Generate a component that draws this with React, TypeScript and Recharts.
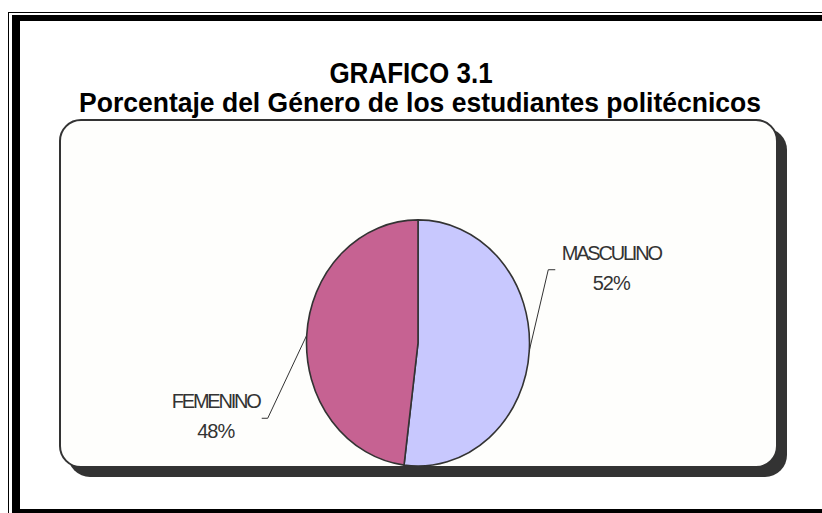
import { Cell, Pie, PieChart } from "recharts";

// Genero de los estudiantes (porcentaje)
const categories = ["MASCULINO", "FEMENINO"];
const percentages = [52, 48];
const colors = ["#C8C8FE", "#C66292"];

const title = "GRAFICO 3.1";
const subtitle = "Porcentaje del Género de los estudiantes politécnicos";

const data = categories.map((name, i) => ({ name, value: percentages[i] }));

const RADIAN = Math.PI / 180;
// the pie in the picture is a bit taller than wide
const Y_STRETCH = 1.104;

// label placement per slice: elbow of the leader line, short tick, text centre
const labelStyle: Record<string, { elbow: [number, number]; tick: number; text: [number, number, number] }> = {
  MASCULINO: { elbow: [19, -81], tick: 7, text: [56, -10, 20] },
  FEMENINO: { elbow: [-39, 83], tick: -6, text: [-46, -10, 20] },
};

function ellipsePoint(cx: number, cy: number, r: number, angle: number) {
  return [cx + r * Math.cos(angle * RADIAN), cy - r * Y_STRETCH * Math.sin(angle * RADIAN)];
}

function EllipseSector(props: any) {
  const { cx, cy, outerRadius, startAngle, endAngle, fill } = props;
  const [x0, y0] = ellipsePoint(cx, cy, outerRadius, startAngle);
  const [x1, y1] = ellipsePoint(cx, cy, outerRadius, endAngle);
  const large = Math.abs(endAngle - startAngle) > 180 ? 1 : 0;
  const sweep = endAngle < startAngle ? 1 : 0;
  const d = `M${cx},${cy} L${x0},${y0} A${outerRadius},${outerRadius * Y_STRETCH} 0 ${large} ${sweep} ${x1},${y1} Z`;
  return <path d={d} fill={fill} stroke="#333333" strokeWidth={1.6} strokeLinejoin="round" />;
}

function SliceLabel(props: any) {
  const { cx, cy, midAngle, outerRadius, name, value } = props;
  const s = labelStyle[name];
  if (!s) return null;
  const [ex, ey] = ellipsePoint(cx, cy, outerRadius, midAngle);
  const mx = ex + s.elbow[0];
  const my = ey + s.elbow[1];
  const tx = mx + s.tick;
  const textX = tx + s.text[0];
  return (
    <g>
      <polyline points={`${ex},${ey} ${mx},${my} ${tx},${my}`} fill="none" stroke="#333333" strokeWidth={1} />
      <text x={textX} y={my + s.text[1]} textAnchor="middle" fill="#333333" fontSize={20} letterSpacing={-2.2}
        fontFamily="'Liberation Sans', Arial, sans-serif">
        {name}
      </text>
      <text x={textX} y={my + s.text[2]} textAnchor="middle" fill="#333333" fontSize={20} letterSpacing={-1}
        fontFamily="'Liberation Sans', Arial, sans-serif">
        {`${value}%`}
      </text>
    </g>
  );
}

export default function App() {
  return (
    <div style={{ position: "absolute", left: 0, top: 0, width: 822, height: 513, overflow: "hidden", background: "#ffffff" }}>
      {/* double frame, cut off on the right and bottom */}
      <div style={{ position: "absolute", left: 8, top: 12, width: 900, height: 600, border: "1.5px solid #000" }} />
      <div
        style={{
          position: "absolute", left: 12, top: 15, width: 900, height: 500, boxSizing: "border-box",
          borderLeft: "8px solid #000", borderTop: "6px solid #000", borderBottom: "6px solid #000",
        }}
      />
      <div
        style={{
          position: "absolute", left: 0, top: 57, width: 822, textAlign: "center",
          fontFamily: "'Liberation Sans', Arial, sans-serif", fontWeight: "bold", color: "#000",
        }}
      >
        <div style={{ fontSize: 26, lineHeight: "32px", transform: "scaleY(1.12)" }}>{title}</div>
        <div style={{ fontSize: 26.5, lineHeight: "28px", paddingLeft: 18, transform: "scaleY(1.05)" }}>{subtitle}</div>
      </div>
      {/* plot area with shadow */}
      <div style={{ position: "absolute", left: 68, top: 128, width: 719, height: 349, background: "#333333", borderRadius: 22 }} />
      <div
        style={{
          position: "absolute", left: 59, top: 119, width: 719, height: 349, boxSizing: "border-box",
          background: "#FEFEFC", border: "2px solid #333333", borderRadius: 22,
        }}
      />
      <div style={{ position: "absolute", left: 0, top: 0 }}>
        <PieChart width={822} height={513} margin={{ top: 0, right: 0, bottom: 0, left: 0 }}>
          <Pie
            data={data}
            dataKey="value"
            nameKey="name"
            cx={418}
            cy={343}
            outerRadius={111.5}
            startAngle={90}
            endAngle={-270}
            stroke="#333333"
            shape={EllipseSector}
            label={SliceLabel}
            labelLine={false}
            isAnimationActive={false}
          >
            {data.map((d, i) => (
              <Cell key={d.name} fill={colors[i]} />
            ))}
          </Pie>
        </PieChart>
      </div>
    </div>
  );
}
